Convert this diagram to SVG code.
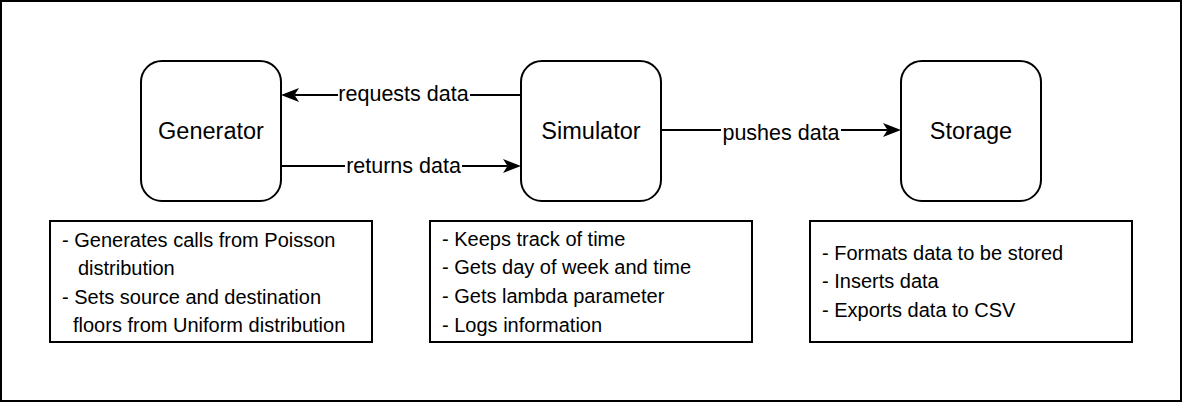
<svg xmlns="http://www.w3.org/2000/svg" width="1182" height="402" viewBox="0 0 1182 402">
<style>
.node{fill:#fff;stroke:#000;stroke-width:2}
.box{fill:#fff;stroke:#000;stroke-width:2}
.nl{font-family:"Liberation Sans",Arial,sans-serif;font-size:23.5px;fill:#000;text-anchor:middle}
.el{font-family:"Liberation Sans",Arial,sans-serif;font-size:21.5px;fill:#000;text-anchor:middle}
.dl{font-family:"Liberation Sans",Arial,sans-serif;font-size:20px;fill:#000}
.edge{fill:none;stroke:#000;stroke-width:2}
.lbg{fill:#fff}
</style>
<defs>
<marker id="arr" viewBox="0 0 18 14" refX="4.5" refY="7" markerWidth="18" markerHeight="14" markerUnits="userSpaceOnUse" orient="auto">
<path d="M0,0 L18,7 L0,14 L4.5,7 Z" fill="#000"/>
</marker>
</defs>
<rect x="1" y="1" width="1180" height="400" fill="#fff" stroke="#000" stroke-width="2"/>
<g id="connectors">
<g id="e-requests">
<path class="edge" d="M521,95 L294.5,95" marker-end="url(#arr)"/>
<rect class="lbg" x="338" y="86" width="132" height="18"/>
<text class="el" x="403.5" y="101">requests data</text>
</g>
<g id="e-returns">
<path class="edge" d="M281,166 L507.5,166" marker-end="url(#arr)"/>
<rect class="lbg" x="345" y="157" width="117" height="18"/>
<text class="el" x="403.5" y="173">returns data</text>
</g>
<g id="e-pushes">
<path class="edge" d="M661,130 L887.5,130" marker-end="url(#arr)"/>
<rect class="lbg" x="721" y="124" width="120" height="18"/>
<text class="el" x="781" y="140">pushes data</text>
</g>
</g>
<g id="generator">
<rect class="node" x="141" y="61" width="140" height="140" rx="21" ry="21"/>
<text class="nl" x="211" y="139">Generator</text>
</g>
<g id="simulator">
<rect class="node" x="521" y="61" width="140" height="140" rx="21" ry="21"/>
<text class="nl" x="591" y="139">Simulator</text>
</g>
<g id="storage">
<rect class="node" x="901" y="61" width="140" height="140" rx="21" ry="21"/>
<text class="nl" x="971" y="139">Storage</text>
</g>
<g id="generator-desc">
<rect class="box" x="50" y="221" width="322" height="121"/>
<text class="dl" x="62" y="247">- Generates calls from Poisson</text>
<text class="dl" x="78" y="275">distribution</text>
<text class="dl" x="62" y="304">- Sets source and destination</text>
<text class="dl" x="73" y="332">floors from Uniform distribution</text>
</g>
<g id="simulator-desc">
<rect class="box" x="430" y="221" width="322" height="121"/>
<text class="dl" x="442" y="246">- Keeps track of time</text>
<text class="dl" x="442" y="274">- Gets day of week and time</text>
<text class="dl" x="442" y="303">- Gets lambda parameter</text>
<text class="dl" x="442" y="332">- Logs information</text>
</g>
<g id="storage-desc">
<rect class="box" x="810" y="221" width="322" height="121"/>
<text class="dl" x="822" y="260">- Formats data to be stored</text>
<text class="dl" x="822" y="288">- Inserts data</text>
<text class="dl" x="822" y="317">- Exports data to CSV</text>
</g>
</svg>
